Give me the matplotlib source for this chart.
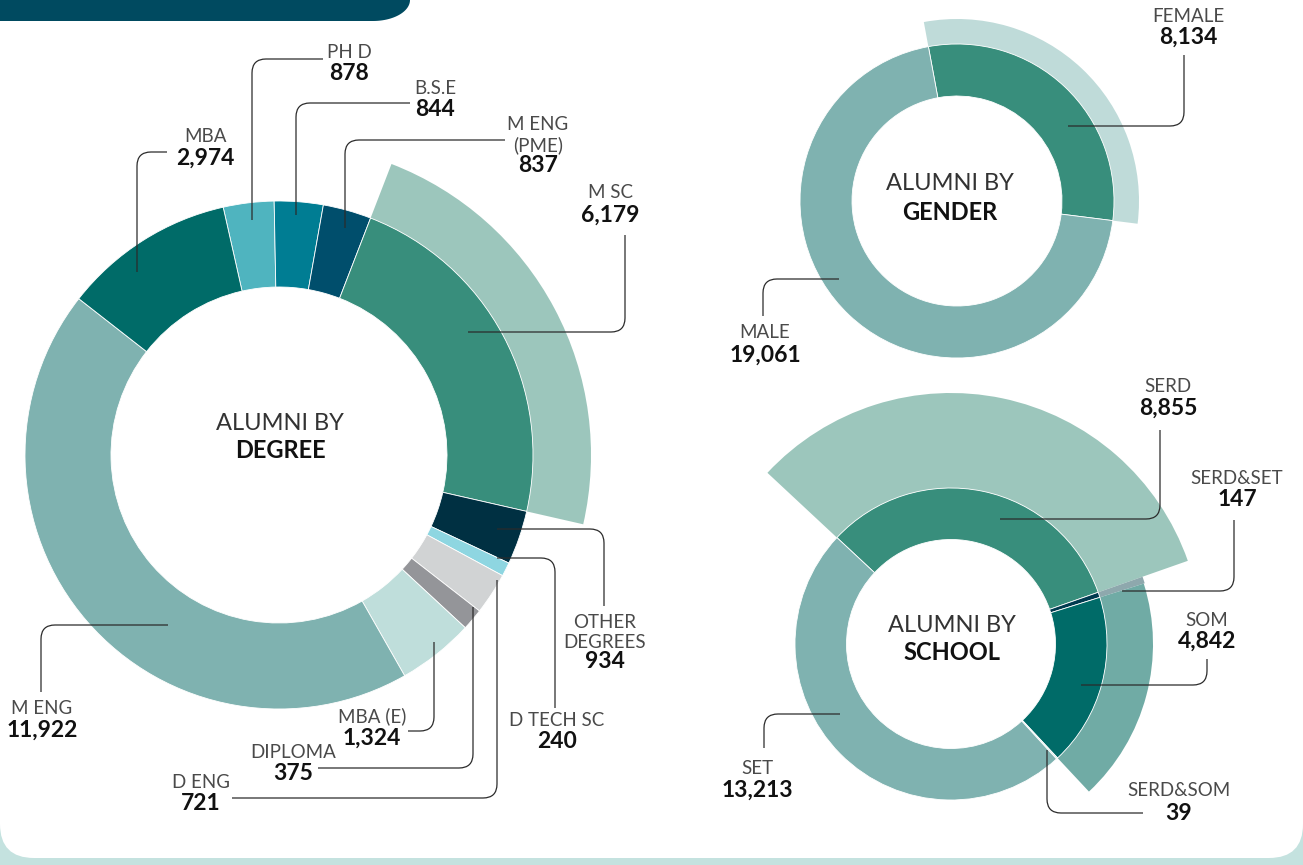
import matplotlib
matplotlib.use("Agg")
import matplotlib.pyplot as plt
from matplotlib.patches import Wedge, FancyBboxPatch, Polygon
from matplotlib.path import Path
from matplotlib.patches import PathPatch
import numpy as np

W, H = 1303, 865

# ---------------- data ----------------
degree_labels = ["PH D", "B.S.E", "M ENG\n(PME)", "M SC", "OTHER\nDEGREES", "D TECH SC",
                 "D ENG", "DIPLOMA", "MBA (E)", "M ENG", "MBA"]
degree_values = [878, 844, 837, 6179, 934, 240, 721, 375, 1324, 11922, 2974]
degree_colors = ["#4fb4bf", "#007d93", "#004e6c", "#388e7c", "#003042", "#8ed6e1",
                 "#d1d3d4", "#949599", "#bfdedb", "#7fb2b0", "#006b68"]

gender_labels = ["FEMALE", "MALE"]
gender_values = [8134, 19061]
gender_colors = ["#388e7c", "#7fb2b0"]

school_labels = ["SERD", "SERD&SET", "SOM", "SERD&SOM", "SET"]
school_values = [8855, 147, 4842, 39, 13213]
school_colors = ["#388e7c", "#003a4f", "#006b68", "#c6e1de", "#7fb2b0"]

# highlighted (extended) segments: label -> (outer radius px, colour)
degree_ext = {"M SC": (312, "#9cc6bc")}
gender_ext = {"FEMALE": (182, "#bfdbd9")}
school_ext = {"SERD": (251, "#9cc6bc"), "SERD&SET": (203, "#8ea8ad"), "SOM": (202, "#70aba5")}

FONT = ["Lato", "DejaVu Sans"]

fig = plt.figure(figsize=(W / 100, H / 100), dpi=100)
fig.patch.set_facecolor("#c4e2df")
ax = fig.add_axes([0, 0, 1, 1])


def Y(py):
    return H - py


def donut(values, colors, labels, cx, cy, R, r, start, ext):
    wedges, _ = ax.pie(values, colors=colors, radius=R, center=(cx, Y(cy)),
                       startangle=start, counterclock=False,
                       wedgeprops=dict(width=R - r, edgecolor="white", linewidth=0.6))
    for w, lab in zip(wedges, labels):
        w.set_zorder(3)
        key = lab.replace("\n", " ")
        if key in ext:
            Rx, col = ext[key]
            ax.add_patch(Wedge((cx, Y(cy)), Rx, w.theta1, w.theta2, width=Rx - R,
                               facecolor=col, edgecolor="none", zorder=2))
    return wedges


# background card
ax.add_patch(FancyBboxPatch((0, Y(858)), W, 1000, boxstyle="round,pad=0,rounding_size=34",
                            facecolor="white", edgecolor="none", zorder=0))
# top banner with rounded bottom-right corner
arc_x = list(373 + 37 * np.cos(np.linspace(-np.pi / 2, 0, 30)))
arc_y = list(-21 * np.sin(np.linspace(-np.pi / 2, 0, 30)))
poly = [(0, Y(0)), (0, Y(21))] + [(x, Y(y)) for x, y in zip(arc_x, arc_y)] + [(410, Y(0))]
ax.add_patch(Polygon(poly, closed=True, facecolor="#004a60", edgecolor="none", zorder=1))

donut(degree_values, degree_colors, degree_labels, 279, 455, 254, 168, 102.7, degree_ext)
donut(gender_values, gender_colors, gender_labels, 957, 201, 157, 105, 100.5, gender_ext)
donut(school_values, school_colors, school_labels, 951, 644, 156, 104.5, 137, school_ext)

ax.set_xlim(0, W)
ax.set_ylim(0, H)
ax.set_aspect("equal")
ax.axis("off")


def leader(pts, rad=14):
    pts = [np.array([x, Y(y)], float) for x, y in pts]
    verts = [tuple(pts[0])]
    codes = [Path.MOVETO]
    for i in range(1, len(pts) - 1):
        p0, p1, p2 = pts[i - 1], pts[i], pts[i + 1]
        d1 = (p1 - p0) / np.linalg.norm(p1 - p0)
        d2 = (p2 - p1) / np.linalg.norm(p2 - p1)
        a = p1 - d1 * rad
        b = p1 + d2 * rad
        verts += [tuple(a), tuple(p1), tuple(b)]
        codes += [Path.LINETO, Path.CURVE3, Path.CURVE3]
    verts.append(tuple(pts[-1]))
    codes.append(Path.LINETO)
    ax.add_patch(PathPatch(Path(verts, codes), facecolor="none", edgecolor="#2b2b2b",
                           linewidth=0.9, zorder=5, capstyle="butt"))


def label(x, y_lab, y_num, text, num, ls=13.5, ns=16.5, spacing=20.5):
    lines = text.split("\n")
    for i, ln in enumerate(lines):
        ax.text(x, Y(y_lab + i * spacing), ln, ha="center", va="center", fontsize=ls,
                family=FONT, fontweight="normal", color="#4a4a4a", zorder=6)
    ax.text(x, Y(y_num), f"{num:,}", ha="center", va="center", fontsize=ns,
            family=FONT, fontweight="bold", color="#111111", zorder=6)


def center_title(cx, cy, word):
    ax.text(cx, Y(cy - 14), "ALUMNI BY", ha="center", va="center", fontsize=17,
            family=FONT, fontweight="normal", color="#333333", zorder=6)
    ax.text(cx, Y(cy + 14), word, ha="center", va="center", fontsize=17,
            family=FONT, fontweight="bold", color="#111111", zorder=6)


# ---------------- degree ----------------
deg_pos = {
    "PH D": ((349, 52, 73), [(252, 220), (252, 59), (323, 59)]),
    "B.S.E": ((435, 89, 110), [(296, 215), (296, 103), (410, 103)]),
    "M ENG\n(PME)": ((538, 125, 166), [(345, 228), (345, 140), (505, 140)]),
    "M SC": ((610, 193, 215), [(468, 332), (625, 332), (625, 235)]),
    "OTHER\nDEGREES": ((605, 622, 662), [(497, 529), (604, 529), (604, 606)]),
    "D TECH SC": ((557, 720, 741), [(497, 558), (555, 558), (555, 708)]),
    "D ENG": ((201, 783, 804), [(497, 580), (497, 798), (232, 798)]),
    "DIPLOMA": ((293, 753, 774), [(473, 607), (473, 768), (318, 768)]),
    "MBA (E)": ((372, 716, 738), [(434, 642), (434, 731), (408, 731)]),
    "M ENG": ((42, 708, 730), [(168, 625), (41, 625), (41, 692)]),
    "MBA": ((205, 137, 158), [(137, 272), (137, 152), (167, 152)]),
}
for lab, val in zip(degree_labels, degree_values):
    (x, yl, yn), pts = deg_pos[lab]
    label(x, yl, yn, lab, val)
    leader(pts)
center_title(280, 437, "DEGREE")

# ---------------- gender ----------------
gen_pos = {
    "FEMALE": ((1188, 16, 37), [(1068, 126), (1184, 126), (1184, 55)]),
    "MALE": ((765, 333, 355), [(839, 279), (763, 279), (763, 316)]),
}
for lab, val in zip(gender_labels, gender_values):
    (x, yl, yn), pts = gen_pos[lab]
    label(x, yl, yn, lab, val)
    leader(pts)
center_title(950, 198, "GENDER")

# ---------------- school ----------------
sch_pos = {
    "SERD": ((1168, 386, 408), [(1000, 519), (1160, 519), (1160, 430)]),
    "SERD&SET": ((1237, 479, 500), [(1122, 591), (1234, 591), (1234, 520)]),
    "SOM": ((1207, 620, 641), [(1081, 685), (1207, 685), (1207, 659)]),
    "SERD&SOM": ((1179, 791, 813), [(1047, 750), (1047, 813), (1143, 813)]),
    "SET": ((757, 768, 790), [(840, 714), (764, 714), (764, 748)]),
}
for lab, val in zip(school_labels, school_values):
    (x, yl, yn), pts = sch_pos[lab]
    label(x, yl, yn, lab, val)
    leader(pts)
center_title(952, 639, "SCHOOL")

fig.savefig("out.png", dpi=100, facecolor=fig.get_facecolor())
